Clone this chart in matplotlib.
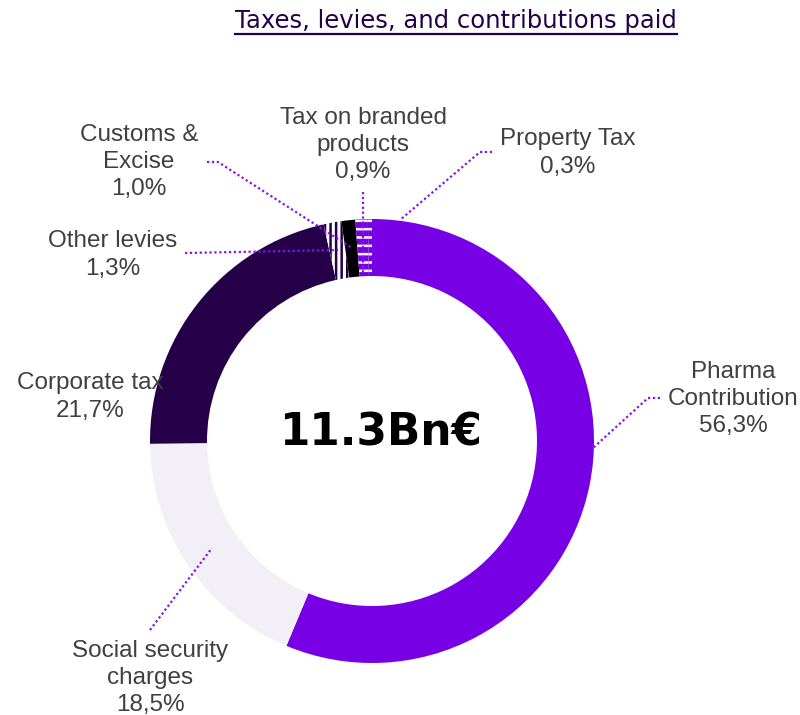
import matplotlib
matplotlib.use("Agg")
import matplotlib.pyplot as plt
from matplotlib.lines import Line2D

# data
labels = ["Pharma\nContribution", "Social security\ncharges", "Corporate tax",
          "Other levies", "Customs &\nExcise", "Tax on branded\nproducts", "Property Tax"]
shares = [56.3, 18.5, 21.7, 1.3, 1.0, 0.9, 0.3]
total_text = "11.3Bn€"
title = "Taxes, levies, and contributions paid"

# styles
faces = ["#7800E4", "#F2F0F6", "#250048", "white", "black", "#7800E4", "#7800E4"]
hatch_cols = [None, None, None, "#250048", None, "white", "white"]
hatches = [None, None, None, "|||", None, "--", "--"]

W, H = 800, 715
def Y(py):
    return H - py

cx, cy, R = 372, 441, 222

plt.rcParams["hatch.linewidth"] = 1.8

fig = plt.figure(figsize=(8, 7.15), dpi=100)
ax = fig.add_axes([0, 0, 1, 1])

wedges, _ = ax.pie(shares, startangle=90, counterclock=False, radius=R,
                   center=(cx, Y(cy)), colors=faces,
                   wedgeprops=dict(width=57, linewidth=0))
for w, hc, h in zip(wedges, hatch_cols, hatches):
    if h:
        w.set_hatch(h)
        w.set_edgecolor(hc)
        w.set_linewidth(0)

ax.set_xlim(0, W)
ax.set_ylim(0, H)
ax.set_aspect("equal")
ax.axis("off")

# label layout (pixel centres) and leader paths
label_pos = [(733, 399), (150, 678), (90, 397), (113, 255), (139, 162), (363, 145), (568, 153)]
pct_text = [("%.1f" % s).replace(".", ",") + "%" for s in shares]
leaders = [
    [(660, 398), (648, 398), (593, 448)],
    [(150, 630), (212, 548)],
    None,
    [(185, 253), (338, 250)],
    [(207, 162), (218, 162), (352, 248)],
    [(363, 192), (363, 275)],
    [(492, 152), (480, 152), (400, 220)],
]

for lab, pct, (px, py), path in zip(labels, pct_text, label_pos, leaders):
    ax.text(px, Y(py), lab + "\n" + pct, ha="center", va="center",
            fontsize=17.5, color="#404040", family="Liberation Sans",
            linespacing=1.32)
    if path:
        xs = [p[0] for p in path]
        ys = [Y(p[1]) for p in path]
        ax.plot(xs, ys, color="#8A10F0", lw=1.6, linestyle=(0, (1, 1.2)))

ax.text(381, Y(433), total_text, ha="center", va="center", fontsize=31.5,
        fontweight="bold", family="DejaVu Sans", color="black")

t = fig.text(456 / W, 1 - 21 / H, title, ha="center", va="center",
             fontsize=17.5, color="#250048", family="DejaVu Sans")
fig.canvas.draw()
bb = t.get_window_extent()
uy = (bb.y0 - 1) / H
fig.add_artist(Line2D([bb.x0 / W, bb.x1 / W], [uy, uy], color="#250048", lw=1.6))

fig.savefig("out.png", dpi=100)
